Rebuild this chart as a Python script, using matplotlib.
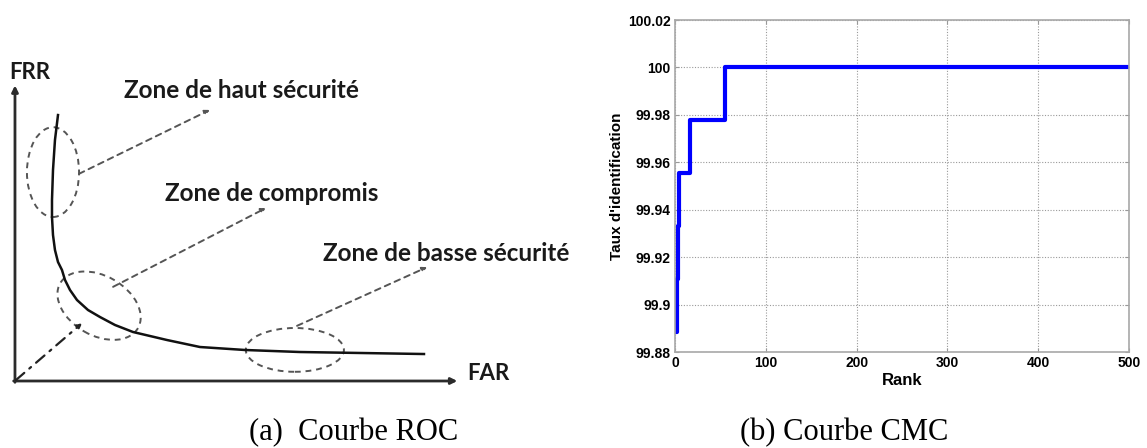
import matplotlib.pyplot as plt
from matplotlib.patches import Ellipse

# ---- data: (a) ROC sketch, units on a common scale (FAR axis goes 0..100)
roc_far = [9.82, 9.13, 8.68, 8.45, 8.45, 8.68, 9.13, 9.82, 10.73, 11.42, 12.56,
           14.16, 16.67, 19.41, 22.83, 26.94, 34.70, 42.24, 52.51, 65.07, 93.38]
roc_frr = [60.73, 55.02, 48.17, 41.32, 37.44, 33.33, 29.91, 27.17, 25.34, 23.06, 20.78,
           18.49, 16.21, 14.61, 12.79, 11.19, 9.36, 7.76, 7.08, 6.62, 6.16]

zone_labels = ["Zone de haut sécurité", "Zone de compromis", "Zone de basse sécurité"]
zone_centers = [(8.68, 47.7), (19.2, 17.2), (63.9, 7.1)]
zone_sizes = [(11.9, 20.5), (20.5, 13.6), (22.4, 10.0)]
zone_angles = [0, -30, 0]
zone_arrow_start = [(14.6, 47.3), (22.4, 21.5), (64.4, 12.6)]
zone_arrow_end = [(44.5, 61.9), (57.3, 39.5), (94.1, 26.0)]
zone_label_pos = [(25.0, 66.4), (34.2, 42.9), (70.3, 29.2)]

# ---- data: (b) CMC curve
ranks = [1, 2, 3, 4, 17, 55, 500]
ident_rate = [99.8885, 99.9109, 99.9332, 99.9555, 99.9777, 100.0, 100.0]
y_ticks = [99.88, 99.90, 99.92, 99.94, 99.96, 99.98, 100.00, 100.02]
y_tick_labels = ["99.88", "99.9", "99.92", "99.94", "99.96", "99.98", "100", "100.02"]
x_ticks = [0, 100, 200, 300, 400, 500]

fig = plt.figure(figsize=(11.47, 4.48), dpi=100)

# ---------------- left panel: ROC sketch
ax1 = fig.add_axes([0, 0, 580 / 1147, 1])
ax1.set_xlim(-3.42, 129.0)
ax1.set_ylim(-15.3, 87.0)
ax1.axis("off")

axis_col = "#2b2b2b"
ax1.annotate("", xy=(0, 67.5), xytext=(0, -0.3),
             arrowprops=dict(arrowstyle="-|>", color=axis_col, lw=2.0,
                             mutation_scale=9, shrinkA=0, shrinkB=0))
ax1.annotate("", xy=(101, 0), xytext=(-0.3, 0),
             arrowprops=dict(arrowstyle="-|>", color=axis_col, lw=2.0,
                             mutation_scale=9, shrinkA=0, shrinkB=0))

ax1.plot(roc_far, roc_frr, color="#111111", lw=1.8, solid_joinstyle="round")

dash_col = "#555555"
for c, s, a in zip(zone_centers, zone_sizes, zone_angles):
    ax1.add_patch(Ellipse(c, s[0], s[1], angle=a, fill=False, ec=dash_col,
                          lw=1.4, ls=(0, (3, 2.5))))

for st, en in zip(zone_arrow_start, zone_arrow_end):
    ax1.annotate("", xy=en, xytext=st,
                 arrowprops=dict(arrowstyle="-|>", color=dash_col, lw=1.4,
                                 ls=(0, (3, 2.5)), mutation_scale=7,
                                 shrinkA=0, shrinkB=0))

# dash-dot line from origin to the compromise zone
ax1.annotate("", xy=(15.3, 13.2), xytext=(0.2, 0.2),
             arrowprops=dict(arrowstyle="-|>", color="#222222", lw=1.6,
                             ls=(0, (5, 3, 1, 3)), mutation_scale=6,
                             shrinkA=0, shrinkB=0))

lab_font = dict(family="Lato", fontweight="bold", color="#1a1a1a")
for txt, pos in zip(zone_labels, zone_label_pos):
    ax1.text(pos[0], pos[1], txt, fontsize=17.5, ha="left", va="center", **lab_font)
ax1.text(-1.37, 70.5, "FRR", fontsize=16, ha="left", va="center", **lab_font)
ax1.text(103.2, 1.8, "FAR", fontsize=16, ha="left", va="center", **lab_font)

# ---------------- right panel: CMC curve
ax2 = fig.add_axes([675 / 1147, 96 / 448, 454 / 1147, 332 / 448])
ax2.plot(ranks, ident_rate, drawstyle="steps-post", color="#0000ff", lw=3)
ax2.set_xlim(0, 500)
ax2.set_ylim(99.88, 100.02)
ax2.set_xticks(x_ticks)
ax2.set_yticks(y_ticks)
ax2.set_yticklabels(y_tick_labels)
ax2.grid(True, ls=(0, (1, 1.5)), color="#9a9a9a", lw=0.8)
ax2.tick_params(direction="in", length=3, width=0.8, color="#999999",
                labelsize=10, pad=3, top=True, right=True)
for lab in ax2.get_xticklabels() + ax2.get_yticklabels():
    lab.set_family("Liberation Sans")
    lab.set_fontweight("bold")
for sp in ax2.spines.values():
    sp.set_color("#a8a8a8")
    sp.set_linewidth(1.2)
ax2.set_xlabel("Rank", family="Liberation Sans", fontweight="bold",
               fontsize=12, labelpad=2)
ax2.set_ylabel("Taux d'identification", family="Liberation Sans",
               fontweight="bold", fontsize=11, labelpad=3)

# captions
cap_font = dict(family="Liberation Serif", fontsize=22, ha="center", va="center")
fig.text(354 / 1147, 15 / 448, "(a)  Courbe ROC", **cap_font)
fig.text(844 / 1147, 15 / 448, "(b) Courbe CMC", **cap_font)

fig.savefig("out.png", dpi=100)
